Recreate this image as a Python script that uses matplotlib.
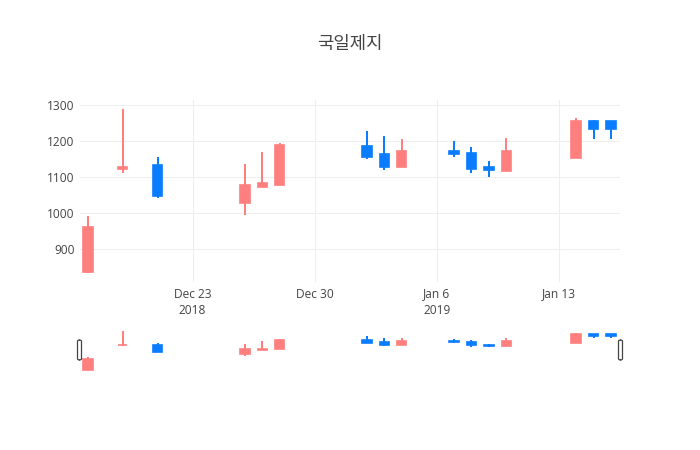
import matplotlib
matplotlib.use("Agg")
import matplotlib.pyplot as plt
import matplotlib.dates as mdates
from matplotlib.patches import FancyBboxPatch
import pandas as pd

title = "국일제지"
dates = ["2018-12-17", "2018-12-19", "2018-12-21", "2018-12-26", "2018-12-27", "2018-12-28",
         "2019-01-02", "2019-01-03", "2019-01-04", "2019-01-07", "2019-01-08", "2019-01-09",
         "2019-01-10", "2019-01-14", "2019-01-15", "2019-01-16"]
opens = [836, 1122, 1132, 1028, 1073, 1078, 1187, 1163, 1127, 1172, 1166, 1127, 1117, 1152, 1256, 1256]
highs = [991, 1288, 1155, 1135, 1170, 1193, 1228, 1214, 1204, 1200, 1184, 1144, 1209, 1263, 1257, 1256]
lows = [833, 1112, 1041, 994, 1072, 1077, 1150, 1119, 1127, 1156, 1110, 1100, 1117, 1152, 1205, 1205]
closes = [960, 1127, 1047, 1077, 1082, 1188, 1156, 1127, 1172, 1163, 1122, 1118, 1172, 1256, 1232, 1233]
xtick_dates = ["2018-12-23", "2018-12-30", "2019-01-06", "2019-01-13"]
xtick_labels = ["Dec 23\n2018", "Dec 30", "Jan 6\n2019", "Jan 13"]
yticks = [900, 1000, 1100, 1200, 1300]

UP = "#ff7f7f"
DOWN = "#0a7cff"
W, H = 700, 450
xnum = mdates.date2num(pd.to_datetime(dates))
tnum = mdates.date2num(pd.to_datetime(xtick_dates))
xlim = (xnum[0] - 0.46, xnum[-1] + 0.52)
ylim = (807, 1314)

fig = plt.figure(figsize=(7, 4.5), dpi=100)
fig.patch.set_facecolor("white")

def frac(x0, y0, x1, y1):
    return [x0 / W, 1 - y1 / H, (x1 - x0) / W, (y1 - y0) / H]

def draw_candles(ax):
    for x, o, h, l, c in zip(xnum, opens, highs, lows, closes):
        col = UP if c >= o else DOWN
        ax.vlines(x, l, h, color=col, lw=1.44, zorder=3)
        lo, hi = min(o, c), max(o, c)
        ax.bar(x, hi - lo, bottom=lo, width=0.53, color=col, edgecolor=col,
               linewidth=1.2, zorder=4)
    ax.set_xlim(*xlim)
    ax.set_ylim(*ylim)

ax = fig.add_axes(frac(80, 100, 620, 282))
draw_candles(ax)
for s in ax.spines.values():
    s.set_visible(False)
ax.set_yticks(yticks)
ax.set_yticklabels([str(v) for v in yticks])
ax.set_xticks(tnum)
ax.set_xticklabels(xtick_labels, linespacing=1.3)
ax.tick_params(length=0, labelsize=8.6, labelcolor="#444444", pad=4)
ax.grid(True, color="#eeeeee", lw=0.75, zorder=0)
ax.set_axisbelow(True)
for lab in ax.get_xticklabels() + ax.get_yticklabels():
    lab.set_fontfamily(["Open Sans", "DejaVu Sans"])

# range slider
rs = fig.add_axes(frac(80, 329, 620, 372.5))
draw_candles(rs)
rs.axis("off")
for cx in (79.5, 620.5):
    bw, bh = 4, 20
    p = FancyBboxPatch(((cx - bw / 2) / W, 1 - (350 + bh / 2) / H), bw / W, bh / H,
                       boxstyle="round,pad=0,rounding_size=0.003",
                       transform=fig.transFigure, facecolor="white",
                       edgecolor="#444444", lw=0.9, zorder=10)
    fig.patches.append(p)

fig.text(0.5, 1 - 44 / H, title, ha="center", va="center", fontsize=12.8,
         color="#444444", family=["Noto Sans CJK KR", "DejaVu Sans"])

fig.savefig("out.png", dpi=100, facecolor="white")
